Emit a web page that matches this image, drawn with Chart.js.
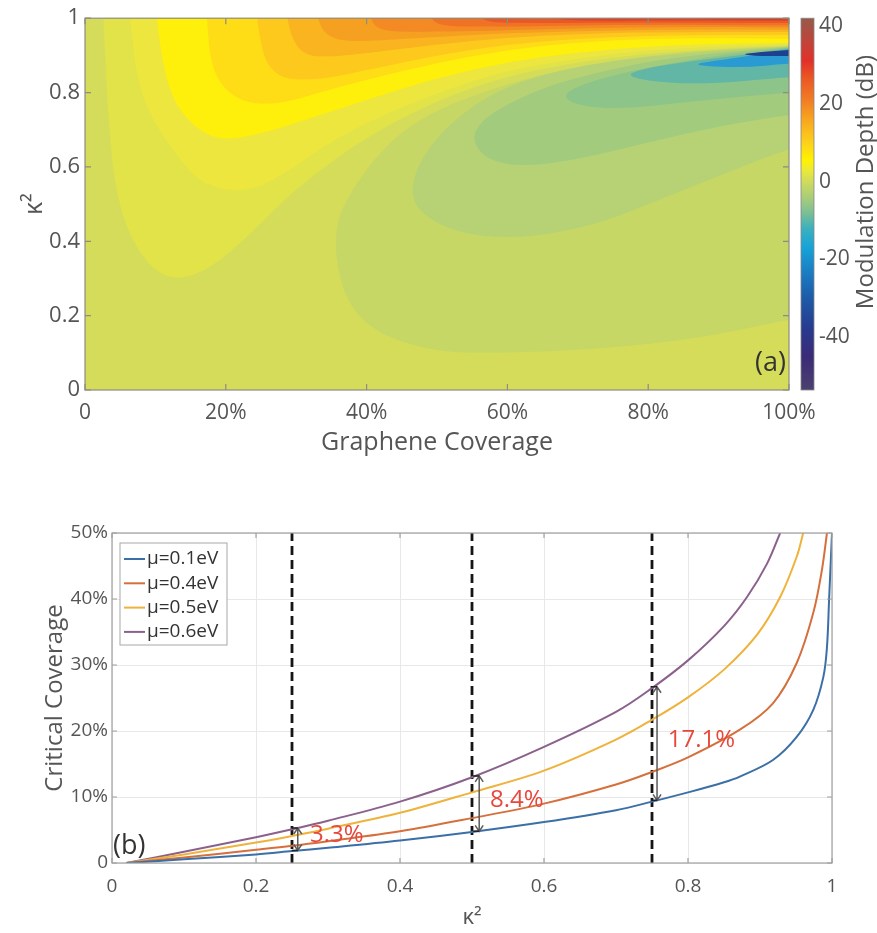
<!DOCTYPE html>
<html>
<head>
<meta charset="utf-8">
<script src="https://cdn.jsdelivr.net/npm/chart.js@4.4.1/dist/chart.umd.min.js"></script>
<style>
    html, body { margin: 0; padding: 0; background: #fff; }
    #panelA { position: absolute; left: 0; top: 0; }
    #panelB { position: absolute; left: 0; top: 470px; }
</style>
</head>
<body>
<canvas id="panelA" width="877" height="470"></canvas>
<canvas id="panelB" width="877" height="463"></canvas>
<script>
// ---------- panel (a): modulation depth map ----------
const coverageTicks = [0, 20, 40, 60, 80, 100];
const kappaTicks = [0, 0.2, 0.4, 0.6, 0.8, 1];
const depthTicks = [-40, -20, 0, 20, 40];
const depthRange = [-53.6, 42];
const baseColor = '#d5dc59';

// positive contour bands: boundary from the top edge round to the right edge, [coverage %, κ²]
const posBandColors = ['#e2e249', '#ece63e', '#fef00b', '#fedd17', '#fcc91c', '#f9b420',
    '#f6a022', '#f38a23', '#ef7225', '#e95826', '#e24028', '#cc3329'];
const posBands = [
    [[2.6, 1], [3.1, 0.8], [3.8, 0.62], [4.6, 0.52], [6.4, 0.41], [9.7, 0.32], [13.5, 0.295], [18, 0.33], [23, 0.41], [28.7, 0.52], [34, 0.6], [40, 0.68], [50, 0.78], [60, 0.845], [70, 0.882], [80, 0.905], [90, 0.918], [100, 0.927]],
    [[6.4, 1], [7.4, 0.83], [9.7, 0.72], [13.5, 0.62], [16.8, 0.55], [23, 0.53], [28.7, 0.585], [33.4, 0.65], [40, 0.72], [50, 0.8], [60, 0.86], [70, 0.892], [80, 0.914], [90, 0.924], [100, 0.93]],
    [[10.2, 1], [11, 0.88], [12.5, 0.78], [15.3, 0.71], [19.2, 0.67], [25.3, 0.69], [33.4, 0.74], [40, 0.78], [50, 0.84], [60, 0.883], [70, 0.908], [80, 0.925], [90, 0.931], [100, 0.934]],
    [[17.3, 1], [17.8, 0.88], [19.6, 0.81], [23, 0.77], [27.7, 0.77], [33.4, 0.8], [40, 0.835], [50, 0.88], [60, 0.915], [70, 0.935], [80, 0.945], [90, 0.946], [100, 0.945]],
    [[24.4, 1], [25.3, 0.9], [26.5, 0.86], [28.7, 0.835], [33.4, 0.835], [40, 0.86], [50, 0.9], [60, 0.93], [70, 0.945], [80, 0.953], [90, 0.955], [100, 0.955]],
    [[28.7, 1], [29.5, 0.94], [31, 0.905], [33.4, 0.895], [40, 0.905], [50, 0.93], [60, 0.948], [70, 0.958], [80, 0.963], [100, 0.963]],
    [[33, 1], [34, 0.96], [36, 0.94], [40, 0.938], [50, 0.95], [60, 0.96], [80, 0.97], [100, 0.969]],
    [[40.5, 1], [41.5, 0.97], [45, 0.963], [55, 0.965], [70, 0.973], [85, 0.977], [100, 0.975]],
    [[49, 1], [50.5, 0.98], [55, 0.977], [65, 0.979], [80, 0.983], [100, 0.981]],
    [[56, 1], [58, 0.988], [65, 0.987], [80, 0.989], [100, 0.987]],
    [[66, 1], [70, 0.993], [85, 0.994], [100, 0.993]],
    [[85, 1], [90, 0.997], [100, 0.997]]
];

// negative contour bands: closed loops against the right edge, [coverage %, κ²]
const negBandColors = ['#c6d766', '#b6d274', '#a3cb7e', '#8dc48a', '#62b6a6', '#2a9bd2', '#1f3f8f'];
const negBands = [
    [[100, 0.19], [87.6, 0.14], [73.4, 0.11], [60, 0.1], [50.4, 0.1], [41.9, 0.147], [37.2, 0.23], [35.5, 0.36], [35.8, 0.46], [38, 0.54], [41, 0.62], [44.7, 0.69], [50, 0.755], [60, 0.825], [70, 0.87], [80, 0.9], [90, 0.916], [100, 0.925]],
    [[100, 0.65], [88, 0.56], [80, 0.5], [73.4, 0.45], [65, 0.415], [59, 0.41], [54, 0.42], [49.7, 0.45], [46.6, 0.5], [46.5, 0.56], [48, 0.63], [51.4, 0.71], [57, 0.79], [64, 0.845], [72, 0.877], [80, 0.897], [90, 0.913], [100, 0.924]],
    [[100, 0.74], [90, 0.71], [78.8, 0.66], [70, 0.62], [62, 0.6], [57, 0.62], [55, 0.67], [56, 0.72], [60, 0.77], [66, 0.82], [74, 0.86], [82, 0.89], [91, 0.909], [100, 0.923]],
    [[100, 0.8], [88, 0.78], [76, 0.755], [70, 0.765], [67.8, 0.79], [70, 0.818], [76, 0.852], [84, 0.882], [92, 0.905], [100, 0.922]],
    [[100, 0.842], [88, 0.822], [80, 0.83], [76.7, 0.848], [80, 0.867], [86, 0.884], [93, 0.9], [100, 0.919]],
    [[100, 0.878], [94, 0.868], [89, 0.87], [86.5, 0.876], [89, 0.884], [95, 0.9], [100, 0.917]],
    [[100, 0.898], [96, 0.898], [93, 0.903], [96, 0.909], [100, 0.915]]
];

// colour bar stops [dB, colour]
const colormap = [[-53.6, '#4b416e'], [-45, '#3b2a78'], [-38, '#283a8e'], [-30, '#1d5aa8'], [-23, '#1a7fc4'],
    [-17, '#17a3d8'], [-12, '#3cb1bd'], [-8, '#7cbf95'], [-4, '#aacd78'], [0, '#cfdb5c'], [3, '#ecea36'],
    [5.5, '#fff200'], [10, '#fdd11b'], [16, '#f8a51f'], [21, '#f27c24'], [27, '#ea5424'], [31, '#e2302a'],
    [36, '#c0443a'], [42, '#965a4a']];

// ---------- panel (b): critical coverage ----------
const seriesLabels = ['μ=0.1eV', 'μ=0.4eV', 'μ=0.5eV', 'μ=0.6eV'];
const seriesColors = ['#3b6fa7', '#d5703d', '#efb23a', '#8b618c'];
const kappaBlue = [0.02, 0.1, 0.2, 0.25, 0.3, 0.4, 0.5, 0.6, 0.7, 0.75, 0.8, 0.849, 0.872, 0.918, 0.951, 0.974, 0.988, 0.993, 0.996, 1.0];
const coverBlue = [0, 0.55, 1.3, 1.8, 2.3, 3.4, 4.7, 6.2, 8.0, 9.3, 10.7, 12.2, 13.1, 15.6, 19.1, 23.2, 28.2, 32.7, 40, 50];
const kappaOrange = [0.02, 0.1, 0.2, 0.25, 0.3, 0.4, 0.5, 0.6, 0.7, 0.75, 0.8, 0.872, 0.918, 0.951, 0.974, 0.986, 0.993];
const coverOrange = [0, 0.85, 2.0, 2.6, 3.3, 4.8, 6.8, 9.0, 11.9, 13.8, 16.0, 20.2, 24.2, 30.3, 37.9, 44.4, 50];
const kappaYellow = [0.02, 0.1, 0.2, 0.25, 0.3, 0.4, 0.5, 0.6, 0.7, 0.75, 0.8, 0.85, 0.896, 0.928, 0.951, 0.96];
const coverYellow = [0, 1.3, 3.1, 4.1, 5.2, 7.6, 10.7, 14.0, 18.7, 21.7, 25.1, 29.3, 34.6, 40.3, 46.4, 50];
const kappaPurple = [0.02, 0.1, 0.2, 0.25, 0.3, 0.4, 0.5, 0.6, 0.7, 0.75, 0.8, 0.85, 0.882, 0.91, 0.928];
const coverPurple = [0, 1.7, 3.9, 5.1, 6.4, 9.3, 13.0, 17.6, 22.9, 26.5, 30.7, 35.9, 40.3, 45.4, 50];
const bKappaTicks = [0, 0.2, 0.4, 0.6, 0.8, 1];
const bCoverTicks = [0, 10, 20, 30, 40, 50];

const markerKappa = [0.25, 0.5, 0.75];
const arrowKappa = [0.258, 0.51, 0.757];
const arrowFrom = [1.9, 4.8, 9.5];
const arrowTo = [5.3, 13.2, 26.7];
const gapLabels = ['3.3%', '8.4%', '17.1%'];
const gapLabelAt = [[0.275, 4.2], [0.525, 9.5], [0.772, 18.6]];

Chart.defaults.font.family = "'Open Sans', sans-serif";
const textGray = '#555';

function smoothPath(ctx, pts) {
    ctx.moveTo(pts[0][0], pts[0][1]);
    for (let i = 1; i < pts.length - 1; i++) {
        const mx = (pts[i][0] + pts[i + 1][0]) / 2;
        const my = (pts[i][1] + pts[i + 1][1]) / 2;
        ctx.quadraticCurveTo(pts[i][0], pts[i][1], mx, my);
    }
    const last = pts[pts.length - 1];
    ctx.lineTo(last[0], last[1]);
}

function inwardTicks(ctx, a, xs, ys, xVals, yVals, len) {
    ctx.beginPath();
    xVals.forEach(v => {
        const px = xs.getPixelForValue(v);
        ctx.moveTo(px, a.bottom); ctx.lineTo(px, a.bottom - len);
        ctx.moveTo(px, a.top); ctx.lineTo(px, a.top + len);
    });
    yVals.forEach(v => {
        const py = ys.getPixelForValue(v);
        ctx.moveTo(a.left, py); ctx.lineTo(a.left + len, py);
        ctx.moveTo(a.right, py); ctx.lineTo(a.right - len, py);
    });
    ctx.stroke();
}

// draws the filled contour bands and the colour bar
const contourPlugin = {
    id: 'contourPlugin',
    beforeDatasetsDraw(chart) {
        const { ctx, chartArea: a, scales: { x, y } } = chart;
        ctx.save();
        ctx.beginPath();
        ctx.rect(a.left, a.top, a.right - a.left, a.bottom - a.top);
        ctx.clip();
        ctx.fillStyle = baseColor;
        ctx.fillRect(a.left, a.top, a.right - a.left, a.bottom - a.top);
        chart.data.datasets.forEach(ds => {
            const pts = ds.data.map(p => [x.getPixelForValue(p.x), y.getPixelForValue(p.y)]);
            if (ds.side === 'top') {
                pts.unshift([pts[0][0], a.top - 6]);
                pts.push([a.right + 6, pts[pts.length - 1][1]], [a.right + 6, a.top - 6]);
            } else {
                pts.unshift([a.right + 6, pts[0][1]]);
                pts.push([a.right + 6, pts[pts.length - 1][1]]);
            }
            ctx.beginPath();
            smoothPath(ctx, pts);
            ctx.closePath();
            ctx.fillStyle = ds.backgroundColor;
            ctx.fill();
        });
        ctx.restore();
    },
    afterDatasetsDraw(chart) {
        const { ctx, chartArea: a, scales: { x, y, depth } } = chart;
        ctx.save();
        ctx.strokeStyle = '#8d8d80';
        ctx.lineWidth = 1.2;
        ctx.strokeRect(a.left, a.top, a.right - a.left, a.bottom - a.top);
        inwardTicks(ctx, a, x, y, coverageTicks, kappaTicks, 6);

        ctx.fillStyle = '#333';
        ctx.font = "27px 'Open Sans'";
        ctx.textAlign = 'right';
        ctx.textBaseline = 'middle';
        ctx.fillText('(a)', a.right - 3, a.bottom - 27);

        // colour bar
        const bx = depth.left + 12, bw = 13;
        const yTop = depth.getPixelForValue(depthRange[1]);
        const yBot = depth.getPixelForValue(depthRange[0]);
        const g = ctx.createLinearGradient(0, yBot, 0, yTop);
        colormap.forEach(([v, c]) => g.addColorStop((v - depthRange[0]) / (depthRange[1] - depthRange[0]), c));
        ctx.fillStyle = g;
        ctx.fillRect(bx, yTop, bw, yBot - yTop);
        ctx.strokeStyle = '#888';
        ctx.lineWidth = 0.8;
        ctx.strokeRect(bx, yTop, bw, yBot - yTop);

        ctx.translate(866, 182);
        ctx.rotate(-Math.PI / 2);
        ctx.fillStyle = textGray;
        ctx.font = "24px 'Open Sans'";
        ctx.textAlign = 'center';
        ctx.fillText('Modulation Depth (dB)', 0, 0);
        ctx.restore();
    }
};

const bandDatasets = [
    ...posBands.map((band, i) => ({ side: 'top', color: posBandColors[i], pts: band })),
    ...negBands.map((band, i) => ({ side: 'right', color: negBandColors[i], pts: band }))
].map(b => ({
    data: b.pts.map(p => ({ x: p[0], y: p[1] })),
    side: b.side,
    backgroundColor: b.color,
    showLine: false,
    pointRadius: 0
}));

new Chart(document.getElementById('panelA'), {
    type: 'scatter',
    data: { datasets: bandDatasets },
    options: {
        responsive: false,
        animation: false,
        events: [],
        layout: { padding: { top: 17, left: 0, right: 0, bottom: 0 } },
        plugins: { legend: { display: false }, tooltip: { enabled: false } },
        scales: {
            x: {
                type: 'linear', min: 0, max: 100,
                afterBuildTicks: s => { s.ticks = coverageTicks.map(v => ({ value: v })); },
                afterFit: s => { s.height = 80; },
                grid: { display: false, drawTicks: false },
                border: { display: false },
                ticks: { padding: 10, color: textGray, font: { size: 21 }, maxRotation: 0,
                    callback: v => v === 0 ? '0' : v + '%' },
                title: { display: true, text: 'Graphene Coverage', color: textGray,
                    font: { size: 25 }, padding: { top: 0, bottom: 12 } }
            },
            y: {
                type: 'linear', min: 0, max: 1,
                afterBuildTicks: s => { s.ticks = kappaTicks.map(v => ({ value: v })); },
                afterFit: s => { s.width = 85; },
                grid: { display: false, drawTicks: false },
                border: { display: false },
                ticks: { padding: 5, color: textGray, font: { size: 22 },
                    callback: v => String(v) },
                title: { display: true, text: 'κ²', color: textGray,
                    font: { size: 25 }, padding: { top: 20, bottom: 0 } }
            },
            depth: {
                type: 'linear', position: 'right', min: depthRange[0], max: depthRange[1],
                afterBuildTicks: s => { s.ticks = depthTicks.map(v => ({ value: v })); },
                afterFit: s => { s.width = 88; },
                grid: { display: true, drawOnChartArea: false, drawTicks: true, tickLength: 26, color: 'rgba(0,0,0,0)' },
                border: { display: false },
                ticks: { padding: 4, color: textGray, font: { size: 21 } }
            }
        }
    },
    plugins: [contourPlugin]
});

// ---------- panel (b) ----------
const annotatePlugin = {
    id: 'annotatePlugin',
    afterDatasetsDraw(chart) {
        const { ctx, chartArea: a, scales: { x, y } } = chart;
        ctx.save();
        ctx.strokeStyle = '#a0a0a0';
        ctx.lineWidth = 1.2;
        ctx.strokeRect(a.left, a.top, a.right - a.left, a.bottom - a.top);
        inwardTicks(ctx, a, x, y, bKappaTicks, bCoverTicks, 5);

        // gap arrows
        arrowKappa.forEach((k, i) => {
            const px = x.getPixelForValue(k);
            const y1 = y.getPixelForValue(arrowFrom[i]);
            const y2 = y.getPixelForValue(arrowTo[i]);
            ctx.strokeStyle = '#5a5a5a';
            ctx.lineWidth = 1.5;
            ctx.beginPath();
            ctx.moveTo(px, y1); ctx.lineTo(px, y2);
            ctx.moveTo(px - 4, y2 + 6); ctx.lineTo(px, y2); ctx.lineTo(px + 4, y2 + 6);
            ctx.moveTo(px - 4, y1 - 6); ctx.lineTo(px, y1); ctx.lineTo(px + 4, y1 - 6);
            ctx.stroke();
            ctx.strokeStyle = '#222';
            ctx.beginPath();
            ctx.moveTo(px - 6, y1); ctx.lineTo(px, y1);
            ctx.moveTo(px - 6, y2); ctx.lineTo(px, y2);
            ctx.stroke();

            ctx.fillStyle = '#e8473b';
            ctx.font = "24px 'Open Sans'";
            ctx.textAlign = 'left';
            ctx.textBaseline = 'middle';
            ctx.fillText(gapLabels[i], x.getPixelForValue(gapLabelAt[i][0]), y.getPixelForValue(gapLabelAt[i][1]));
        });

        // legend box
        const lx = a.left + 8, ly = a.top + 10, lw = 107, lh = 102;
        ctx.fillStyle = '#fff';
        ctx.fillRect(lx, ly, lw, lh);
        ctx.strokeStyle = '#a8a8a8';
        ctx.lineWidth = 1;
        ctx.strokeRect(lx, ly, lw, lh);
        ctx.font = "19px 'Open Sans'";
        ctx.textAlign = 'left';
        ctx.textBaseline = 'middle';
        seriesLabels.forEach((lab, i) => {
            const ry = ly + 16 + i * 24.3;
            ctx.strokeStyle = seriesColors[i];
            ctx.lineWidth = 2;
            ctx.beginPath(); ctx.moveTo(lx + 4, ry); ctx.lineTo(lx + 25, ry); ctx.stroke();
            ctx.fillStyle = '#333';
            ctx.fillText(lab, lx + 27, ry);
        });

        ctx.fillStyle = '#333';
        ctx.font = "27px 'Open Sans'";
        ctx.fillText('(b)', a.left + 1, a.bottom - 17);
        ctx.restore();
    }
};

const curveSets = [
    [kappaBlue, coverBlue], [kappaOrange, coverOrange], [kappaYellow, coverYellow], [kappaPurple, coverPurple]
];

new Chart(document.getElementById('panelB'), {
    type: 'line',
    data: {
        datasets: [
            ...curveSets.map(([ks, cs], i) => ({
                label: seriesLabels[i],
                data: ks.map((k, j) => ({ x: k, y: cs[j] })),
                borderColor: seriesColors[i],
                borderWidth: 2,
                pointRadius: 0,
                tension: 0.35
            })),
            ...markerKappa.map(k => ({
                label: 'κ²=' + k,
                data: [{ x: k, y: 0 }, { x: k, y: 50 }],
                borderColor: '#151515',
                borderWidth: 2.8,
                borderDash: [9, 5],
                pointRadius: 0
            }))
        ]
    },
    options: {
        responsive: false,
        animation: false,
        events: [],
        layout: { padding: { top: 63, left: 0, right: 45, bottom: 0 } },
        plugins: { legend: { display: false }, tooltip: { enabled: false } },
        scales: {
            x: {
                type: 'linear', min: 0, max: 1,
                afterBuildTicks: s => { s.ticks = bKappaTicks.map(v => ({ value: v })); },
                afterFit: s => { s.height = 70; },
                grid: { color: '#e8e8e8', drawTicks: false },
                border: { display: false },
                ticks: { padding: 12, color: textGray, font: { size: 19 }, maxRotation: 0,
                    callback: v => String(v) },
                title: { display: true, text: 'κ²', color: textGray,
                    font: { size: 22 }, padding: { top: 0, bottom: 2 } }
            },
            y: {
                type: 'linear', min: 0, max: 50,
                afterBuildTicks: s => { s.ticks = bCoverTicks.map(v => ({ value: v })); },
                afterFit: s => { s.width = 112; },
                grid: { color: '#e8e8e8', drawTicks: false },
                border: { display: false },
                ticks: { padding: 4, color: textGray, font: { size: 19 },
                    callback: v => v === 0 ? '0' : v + '%' },
                title: { display: true, text: 'Critical Coverage', color: textGray,
                    font: { size: 24 }, padding: { top: 41, bottom: 0 } }
            }
        }
    },
    plugins: [annotatePlugin]
});
</script>
</body>
</html>
